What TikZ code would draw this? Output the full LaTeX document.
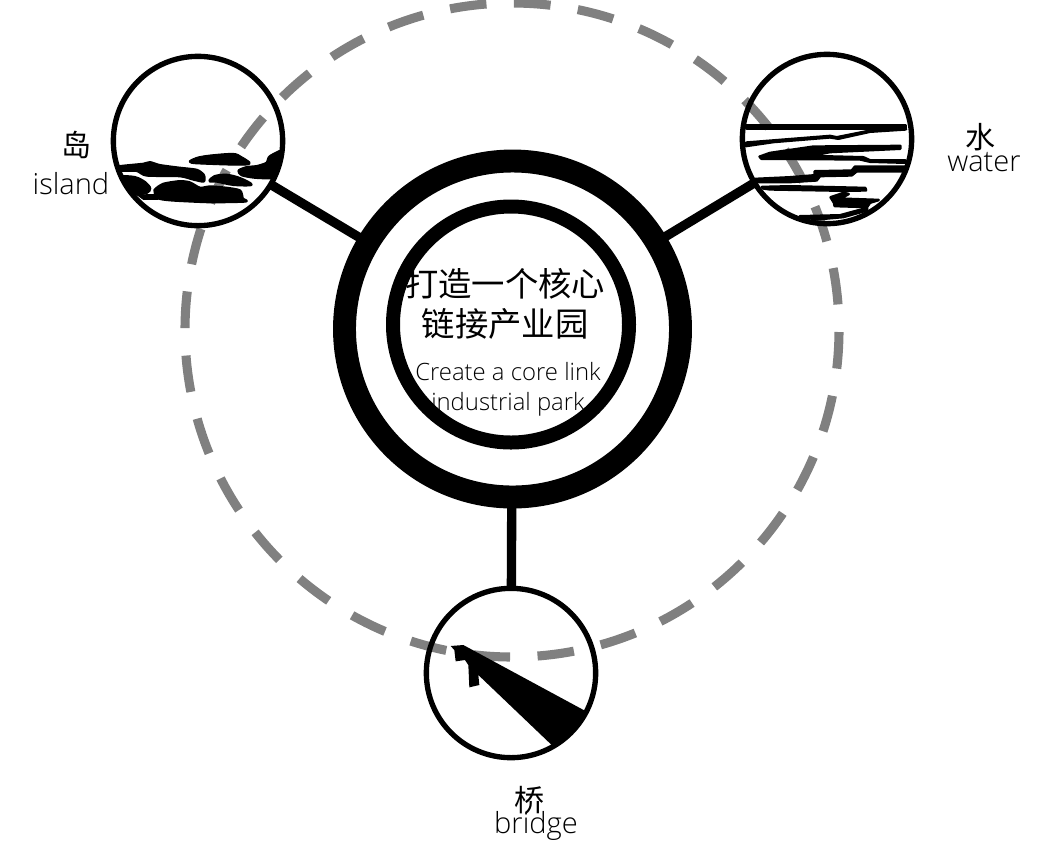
\documentclass[tikz,border=0pt]{standalone}
\usepackage{fontspec}
\setmainfont{Open Sans}[UprightFont=* Light]
\newfontfamily\cjk{Noto Sans CJK SC}
\begin{document}
\begin{tikzpicture}[x=0.75pt,y=-0.75pt,
  lab/.style={inner sep=0pt,font=\fontsize{21.8pt}{24pt}\selectfont},
  cjklab/.style={inner sep=0pt,font=\fontsize{22.5pt}{26pt}\selectfont\cjk},
  corecjk/.style={inner sep=0pt,font=\fontsize{25pt}{30pt}\selectfont\cjk},
  coreen/.style={inner sep=0pt,font=\fontsize{17.9pt}{20pt}\selectfont},
  small/.style={circle,draw,line width=4pt,minimum size=127pt,inner sep=0pt,outer sep=0pt},
  link/.style={line width=7pt},
  ink/.style={fill=black,draw=black,line width=0.7pt,line join=round},
  wink/.style={fill=black,draw=black,line width=2pt,line join=round},
  zoomed/.style={x=0.25pt,y=-0.25pt}]
\path[use as bounding box] (0,0) rectangle (1057,865);
\draw[draw=black!50,line width=6.8pt,dash pattern=on 27.5pt off 20.66pt,dash phase=46.66pt] (512,330) circle[radius=327];
\node[small] (island) at (198,141) {};
\node[small] (water) at (827,139) {};
\node[small] (bridge) at (511,673) {};
\node[circle,draw,line width=17.2pt,minimum size=252pt,inner sep=0pt,outer sep=0pt] (core) at (512.5,329) {};
\node[circle,draw,line width=10.5pt,minimum size=177pt,inner sep=0pt,outer sep=0pt] (inner) at (511,324.5) {};
\draw[link] (island) -- (core);
\draw[link] (water) -- (core);
\draw[link] (bridge) -- (core);
% island
\begin{scope}
\clip (198,141) circle (85);
\begin{scope}[shift={(100,100)},zoomed]
\draw[ink] plot[smooth cycle,tension=0.5] coordinates {(268,183)(290,172)(330,165)(400,160)(425,170)(450,187)(440,195)(380,195)(300,192)(275,190)};
\draw[wink] plot[smooth cycle,tension=0.4] coordinates {(55,200)(130,192)(150,187)(180,196)(240,204)(290,210)(311,225)(311,244)(280,238)(240,228)(140,226)(110,212)(60,211)};
\draw[wink] plot[smooth cycle,tension=0.5] coordinates {(60,230)(105,232)(135,247)(150,265)(140,278)(100,283)(85,270)(65,247)};
\draw[wink] plot[smooth cycle,tension=0.4] coordinates {(164,270)(190,252)(240,244)(270,248)(300,264)(330,260)(380,264)(420,272)(428,296)(436,304)(330,306)(220,301)(180,296)(169,285)};
\draw[wink] plot[smooth cycle,tension=0.5] coordinates {(329,243)(344,229)(380,225)(420,235)(454,254)(400,254)(350,244)};
\draw[wink] plot[smooth cycle,tension=0.4] coordinates {(416,212)(440,202)(470,199)(500,189)(510,169)(560,150)(560,230)(500,234)(460,232)(425,225)};
\draw[ink] (112,285)--(170,283)--(175,298)--(130,298)--cycle;
\end{scope}
\end{scope}
% water
\begin{scope}
\clip (827,139) circle (85);
\begin{scope}[shift={(730,90)},zoomed]
\draw[wink] (50,106)--(528,106)--(528,115)--(50,115)--cycle;
\draw[wink] (48,158)--(300,138)--(320,142)--(420,122)--(528,118)--(420,125)--(325,146)--(300,142)--(130,156)--(48,168)--cycle;
\draw[wink] (89,200)--(120,189)--(250,170)--(511,168)--(511,176)--(300,186)--(240,198)--(400,202)--(420,211)--(526,211)--(526,218)--(420,215)--(390,208)--(94,206)--cycle;
\draw[wink] (74,267)--(180,262)--(254,256)--(254,244)--(365,242)--(375,230)--(526,230)--(521,244)--(380,244)--(365,256)--(270,258)--(260,271)--(180,276)--(74,276)--cycle;
\draw[wink] (96,291)--(180,289)--(406,294)--(408,301)--(340,302)--(120,298)--(99,295)--cycle;
\draw[wink] (302,322)--(340,309)--(356,312)--(330,326)--(446,330)--(420,338)--(411,351)--(314,348)--(312,338)--cycle;
\draw[wink] (209,379)--(330,376)--(411,354)--(411,361)--(340,381)--(260,388)--(219,381)--cycle;
\end{scope}
\end{scope}
% bridge
\begin{scope}
\clip (511,673) circle (85);
\begin{scope}[shift={(420,620)},zoomed]
\fill (92,78)--(130,75)--(500,275)--(500,400)--(395,375)--(175,165)--(178,195)--(148,202)--(145,135)--(135,120)--(107,124)--(103,90)--cycle;
\end{scope}
\end{scope}
\node[cjklab] (t1) at (76,145) {岛};
\node[lab] (t2) at (71,184) {island};
\node[cjklab] (t3) at (980,137) {水};
\node[lab] (t4) at (984,162) {water};
\node[cjklab] (t5) at (529,800) {桥};
\node[lab] (t6) at (536,826) {bridge};
\node[corecjk] (c1) at (505,284) {打造一个核心};
\node[corecjk] (c2) at (505,324) {链接产业园};
\node[coreen] (c3) at (508,372) {Create a core link};
\node[coreen] (c4) at (508,404) {industrial park};
\end{tikzpicture}
\end{document}
